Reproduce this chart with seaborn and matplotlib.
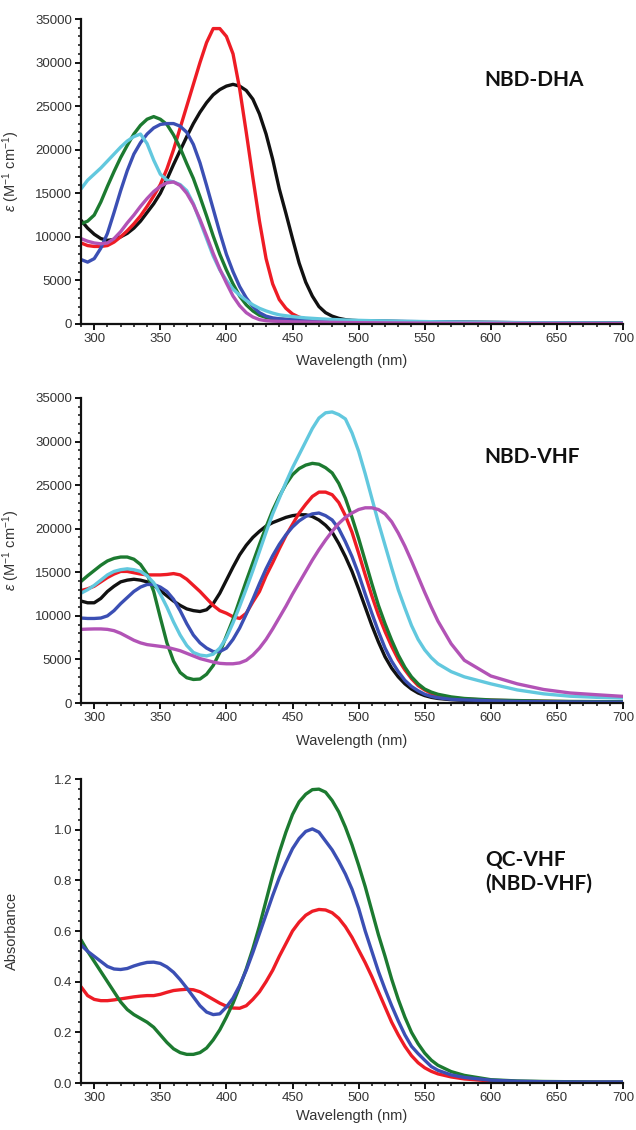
import numpy as np
import pandas as pd
import matplotlib
matplotlib.use('Agg')
import matplotlib.pyplot as plt
from matplotlib.ticker import MultipleLocator, AutoMinorLocator
import seaborn as sns

# wavelength grid (nm) shared by all spectra
WL = [290, 295, 300, 305, 310, 315, 320, 325, 330, 335, 340, 345, 350, 355, 360, 365,
      370, 375, 380, 385, 390, 395, 400, 405, 410, 415, 420, 425, 430, 435, 440, 445,
      450, 455, 460, 465, 470, 475, 480, 485, 490, 495, 500, 505, 510, 515, 520, 525,
      530, 535, 540, 545, 550, 555, 560, 570, 580, 600, 620, 640, 660, 680, 700]

# --- NBD-DHA, epsilon (M-1 cm-1)
dha_black = [11900, 11000, 10300, 9800, 9600, 9700, 10000, 10400, 11000, 11800, 12800, 13800,
             15000, 16600, 18300, 19900, 21500, 23000, 24300, 25400, 26300, 26900, 27300, 27500,
             27300, 26800, 25800, 24100, 21800, 18900, 15500, 12700, 9800, 7000, 4800, 3200,
             2000, 1300, 900, 650, 500, 420, 380, 350, 330, 310, 300, 290, 280, 270, 260, 250,
             240, 230, 220, 200, 190, 170, 150, 130, 120, 110, 100]
dha_red = [9300, 9000, 8900, 8900, 9000, 9400, 10000, 10700, 11500, 12400, 13500, 14700,
           16000, 17800, 20000, 22500, 25000, 27500, 30000, 32300, 33900, 33900, 33000, 31000,
           27000, 22000, 16800, 11800, 7500, 4600, 2800, 1800, 1150, 780, 580, 450, 380, 340,
           300, 280, 260, 240, 230, 220, 210, 200, 190, 180, 170, 160, 150, 140, 130, 120,
           110, 100, 90, 80, 70, 60, 55, 50, 50]
dha_green = [11500, 11800, 12500, 14000, 15800, 17500, 19100, 20500, 21800, 22800, 23500, 23800,
             23500, 22900, 21700, 20200, 18400, 16700, 14600, 12400, 10100, 8000, 6200, 4600,
             3200, 2200, 1500, 1000, 750, 600, 550, 510, 480, 450, 430, 410, 400, 380, 370,
             360, 350, 340, 330, 320, 310, 300, 290, 280, 270, 260, 250, 240, 230, 220, 210,
             200, 190, 170, 150, 130, 120, 110, 100]
dha_blue = [7400, 7100, 7500, 8700, 10400, 12800, 15300, 17600, 19500, 20800, 21800, 22500,
            22900, 23000, 23000, 22700, 22000, 20600, 18500, 15900, 13200, 10500, 8000, 6000,
            4300, 3000, 2000, 1300, 900, 700, 600, 550, 520, 500, 480, 460, 450, 430, 410,
            400, 380, 370, 360, 350, 340, 330, 320, 310, 300, 290, 280, 270, 260, 250, 240,
            220, 200, 180, 160, 140, 120, 110, 100]
dha_cyan = [15500, 16500, 17200, 17900, 18700, 19500, 20300, 21000, 21500, 21800, 20700, 18800,
            17200, 16500, 16300, 16000, 15300, 13800, 11800, 9800, 7800, 6200, 5000, 4000,
            3300, 2700, 2200, 1800, 1500, 1250, 1050, 950, 850, 770, 700, 650, 600, 560, 520,
            490, 460, 440, 420, 400, 380, 365, 350, 335, 320, 310, 300, 290, 280, 265, 250,
            225, 200, 170, 150, 130, 120, 110, 100]
dha_magenta = [9800, 9500, 9300, 9200, 9300, 9800, 10600, 11600, 12500, 13500, 14400, 15200,
               15800, 16200, 16300, 15900, 15000, 13700, 12000, 10100, 8100, 6300, 4700, 3200,
               2100, 1300, 800, 500, 380, 330, 300, 280, 250, 240, 230, 220, 210, 200, 190, 180,
               170, 160, 150, 145, 140, 135, 130, 125, 120, 115, 110, 105, 100, 95, 90, 85, 80,
               75, 70, 65, 60, 55, 50]

# --- NBD-VHF, epsilon (M-1 cm-1)
vhf_black = [11700, 11500, 11500, 12000, 12800, 13400, 13900, 14100, 14200, 14100, 13900, 13500,
             12900, 12300, 11700, 11200, 10800, 10600, 10500, 10700, 11400, 12600, 14100, 15600,
             17000, 18100, 19000, 19700, 20300, 20700, 21000, 21300, 21500, 21600, 21600, 21400,
             21000, 20400, 19600, 18300, 16800, 15100, 13100, 11000, 8900, 7000, 5300, 4000,
             3000, 2200, 1600, 1150, 850, 650, 520, 380, 300, 220, 170, 140, 120, 110, 100]
vhf_red = [12900, 13100, 13400, 13900, 14400, 14800, 15100, 15100, 14950, 14800, 14700, 14700,
           14700, 14750, 14850, 14700, 14200, 13500, 12800, 12000, 11200, 10600, 10300, 9900,
           9700, 10300, 11600, 12800, 14600, 16100, 17700, 19200, 20500, 21800, 22800, 23700,
           24200, 24200, 23900, 23000, 21500, 19600, 17200, 14700, 12300, 10100, 8200, 6500,
           5000, 3800, 2800, 2000, 1500, 1100, 850, 600, 450, 320, 250, 200, 150, 130, 110]
vhf_green = [13950, 14600, 15200, 15800, 16300, 16600, 16750, 16750, 16500, 15900, 14800, 12800,
             9800, 6900, 4800, 3500, 2900, 2700, 2750, 3300, 4300, 5800, 7700, 9600, 11800,
             14000, 16100, 18200, 20200, 22100, 23700, 25100, 26200, 26900, 27300, 27500, 27400,
             27000, 26400, 25200, 23500, 21300, 18900, 16300, 13700, 11200, 9100, 7200, 5500,
             4100, 3000, 2200, 1600, 1250, 1000, 700, 520, 350, 280, 220, 180, 160, 150]
vhf_blue = [9750, 9700, 9700, 9750, 10000, 10600, 11400, 12100, 12800, 13300, 13600, 13600,
            13300, 12800, 11900, 10600, 9100, 7800, 6900, 6300, 5900, 5900, 6300, 7300, 8600,
            10200, 11900, 13700, 15400, 16900, 18200, 19300, 20200, 20900, 21400, 21700, 21800,
            21500, 21000, 20000, 18500, 16800, 14800, 12500, 10300, 8200, 6300, 4800, 3600,
            2600, 1900, 1400, 1000, 760, 600, 420, 350, 250, 180, 150, 120, 110, 100]
vhf_cyan = [12600, 13000, 13500, 14100, 14700, 15100, 15300, 15400, 15300, 15100, 14600, 13800,
            12500, 11000, 9300, 7800, 6600, 5800, 5500, 5400, 5600, 6300, 7500, 9200, 11100,
            13100, 15200, 17400, 19600, 21700, 23500, 25300, 27000, 28500, 30000, 31500, 32700,
            33300, 33400, 33100, 32600, 31000, 28900, 26300, 23500, 20700, 18100, 15500, 13000,
            10900, 8900, 7300, 6100, 5200, 4500, 3600, 3000, 2200, 1500, 1050, 780, 650, 570]
vhf_magenta = [8450, 8480, 8500, 8500, 8450, 8300, 8000, 7600, 7200, 6900, 6700, 6600,
               6500, 6400, 6200, 6000, 5700, 5400, 5100, 4900, 4700, 4550, 4500, 4500, 4600,
               4900, 5500, 6300, 7300, 8500, 9800, 11100, 12500, 13800, 15100, 16400, 17600,
               18700, 19700, 20600, 21300, 21800, 22200, 22400, 22400, 22200, 21700, 20800,
               19500, 18000, 16300, 14500, 12700, 11000, 9400, 6800, 4900, 3100, 2200, 1550,
               1150, 950, 760]

# --- QC-VHF (NBD-VHF), absorbance
qc_red = [0.38, 0.345, 0.33, 0.325, 0.325, 0.328, 0.332, 0.336, 0.34, 0.343, 0.345, 0.345,
          0.35, 0.358, 0.365, 0.368, 0.37, 0.368, 0.36, 0.345, 0.33, 0.315, 0.303, 0.296,
          0.295, 0.305, 0.33, 0.36, 0.40, 0.445, 0.50, 0.55, 0.60, 0.635, 0.662, 0.678,
          0.685, 0.683, 0.672, 0.65, 0.617, 0.575, 0.525, 0.475, 0.42, 0.36, 0.30, 0.24,
          0.19, 0.145, 0.108, 0.08, 0.06, 0.046, 0.036, 0.024, 0.016, 0.008, 0.005, 0.004,
          0.003, 0.003, 0.003]
qc_green = [0.565, 0.52, 0.48, 0.44, 0.40, 0.36, 0.32, 0.29, 0.27, 0.255, 0.24, 0.22,
            0.19, 0.16, 0.135, 0.12, 0.113, 0.113, 0.12, 0.138, 0.17, 0.21, 0.26, 0.315,
            0.38, 0.45, 0.53, 0.62, 0.72, 0.82, 0.91, 0.99, 1.06, 1.11, 1.14, 1.158,
            1.16, 1.148, 1.115, 1.07, 1.01, 0.94, 0.86, 0.775, 0.68, 0.585, 0.50, 0.41,
            0.33, 0.26, 0.20, 0.155, 0.118, 0.09, 0.07, 0.045, 0.03, 0.013, 0.008, 0.006,
            0.005, 0.004, 0.004]
qc_blue = [0.545, 0.52, 0.50, 0.48, 0.46, 0.45, 0.448, 0.452, 0.462, 0.47, 0.476, 0.477,
           0.472, 0.458, 0.437, 0.408, 0.375, 0.34, 0.305, 0.28, 0.27, 0.273, 0.30, 0.335,
           0.385, 0.445, 0.515, 0.59, 0.665, 0.74, 0.81, 0.87, 0.925, 0.965, 0.993, 1.003,
           0.99, 0.955, 0.92, 0.875, 0.825, 0.765, 0.69, 0.60, 0.52, 0.44, 0.37, 0.305,
           0.245, 0.19, 0.145, 0.116, 0.09, 0.065, 0.05, 0.032, 0.022, 0.011, 0.007, 0.005,
           0.004, 0.004, 0.004]

COLORS = {'black': '#111111', 'red': '#ee1c25', 'green': '#1c7a30',
          'blue': '#3b4fb4', 'cyan': '#62c8de', 'magenta': '#b253b6'}

sns.set_style('ticks')
plt.rcParams['font.family'] = ['Liberation Sans', 'DejaVu Sans']
plt.rcParams['mathtext.fontset'] = 'custom'
plt.rcParams['mathtext.rm'] = 'Liberation Sans'
plt.rcParams['mathtext.it'] = 'Liberation Sans:italic'
plt.rcParams['mathtext.bf'] = 'Liberation Sans:bold'

fig = plt.figure(figsize=(6.36, 11.3), dpi=100)
W, H = 636, 1130


def make_ax(top, bottom, left=81, right=623):
    return fig.add_axes([left / W, 1 - bottom / H, (right - left) / W, (bottom - top) / H])


def style_ax(ax, ymax, ystep, ylabel, ylab_x):
    ax.set_xlim(290, 700)
    ax.set_ylim(0, ymax)
    ax.xaxis.set_major_locator(MultipleLocator(50))
    ax.xaxis.set_minor_locator(AutoMinorLocator(5))
    ax.yaxis.set_major_locator(MultipleLocator(ystep))
    ax.yaxis.set_minor_locator(AutoMinorLocator(5))
    for s in ['top', 'right']:
        ax.spines[s].set_visible(False)
    for s in ['left', 'bottom']:
        ax.spines[s].set_linewidth(1.6)
        ax.spines[s].set_color('#111111')
    ax.tick_params(which='major', direction='out', length=4, width=1.4, color='#111111',
                   labelsize=9.5, labelcolor='#333333', pad=2.5)
    ax.tick_params(which='minor', direction='out', length=2.5, width=1.1, color='#111111')
    ax.set_xlabel('Wavelength (nm)', fontsize=10.5, color='#333333')
    ax.set_ylabel(ylabel, fontsize=10.5, color='#333333')
    ax.yaxis.set_label_coords(ylab_x, 0.5)
    ax.xaxis.set_label_coords(0.5, -0.10)
    ax.grid(False)


def draw(ax, series):
    for name, vals in series:
        df = pd.DataFrame({'wl': WL, 'val': vals})
        sns.lineplot(data=df, x='wl', y='val', color=COLORS[name], linewidth=2.4,
                     ax=ax, legend=False)


eps_label = r'$\it{\varepsilon}$ (M$^{-1}$ cm$^{-1}$)'

ax1 = make_ax(19, 324)
draw(ax1, [('black', dha_black), ('red', dha_red), ('green', dha_green),
           ('blue', dha_blue), ('cyan', dha_cyan), ('magenta', dha_magenta)])
style_ax(ax1, 35000, 5000, eps_label, -0.109)
ax1.text(0.745, 0.80, 'NBD-DHA', transform=ax1.transAxes, fontsize=15,
         fontweight='bold', family='Lato', va='center', ha='left', color='#111111')

ax2 = make_ax(398, 703)
draw(ax2, [('black', vhf_black), ('red', vhf_red), ('green', vhf_green),
           ('blue', vhf_blue), ('cyan', vhf_cyan), ('magenta', vhf_magenta)])
style_ax(ax2, 35000, 5000, eps_label, -0.109)
ax2.text(0.745, 0.807, 'NBD-VHF', transform=ax2.transAxes, fontsize=15,
         fontweight='bold', family='Lato', va='center', ha='left', color='#111111')

ax3 = make_ax(779, 1083)
draw(ax3, [('red', qc_red), ('green', qc_green), ('blue', qc_blue)])
style_ax(ax3, 1.2, 0.2, 'Absorbance', -0.114)
ax3.yaxis.set_major_formatter(matplotlib.ticker.FormatStrFormatter('%.1f'))
ax3.xaxis.set_label_coords(0.5, -0.085)
ax3.text(0.745, 0.694, 'QC-VHF\n(NBD-VHF)', transform=ax3.transAxes, fontsize=15,
         fontweight='bold', family='Lato', va='center', ha='left', color='#111111',
         linespacing=1.25)

fig.savefig('out.png', dpi=100, facecolor='white')
